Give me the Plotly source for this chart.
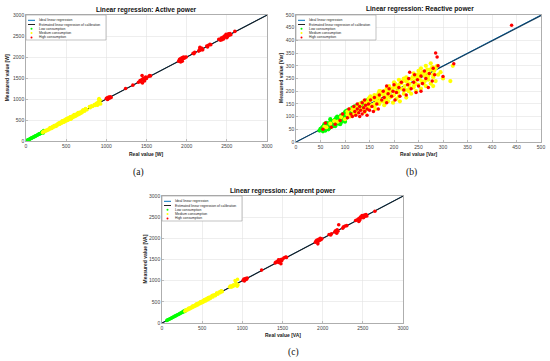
import plotly.graph_objects as go

# ---------------- DATA ----------------
# (a) Active power [W]
a_low_x = [12, 20, 28, 35, 42, 50, 57, 64, 71, 78, 85, 92, 100, 107, 114, 121, 128, 135, 142, 150, 157, 164, 171, 178, 185, 192, 199, 206, 213, 220, 60, 110, 160, 200, 215]
a_low_y = [11, 21, 27, 37, 40, 52, 55, 66, 69, 80, 83, 94, 98, 109, 112, 123, 126, 137, 140, 152, 155, 166, 169, 180, 183, 194, 197, 210, 216, 248, 63, 106, 164, 222, 190]

a_med_x = [205, 215, 225, 235, 245, 255, 265, 275, 285, 295, 305, 315, 325, 335, 345, 355, 365, 375, 385, 395, 405, 415, 425, 435, 445, 455, 465, 475, 485, 495, 505, 515, 525, 535, 545, 555, 565, 575, 585, 595, 605, 615, 625, 635, 645, 655, 665, 675, 685, 700, 715, 730, 745, 760, 790, 800, 815, 830, 850, 860, 875, 885, 895, 905, 910, 915, 920, 925, 930, 905, 890, 450, 520, 600, 560, 640, 480, 420, 380, 330, 700, 710,
           300, 350, 400, 450, 500, 550, 600, 650, 700, 320, 370, 420, 470, 520, 570, 620, 670, 740]
a_med_y = [200, 225, 215, 240, 232, 258, 250, 280, 270, 300, 290, 322, 312, 340, 330, 362, 350, 385, 368, 405, 390, 425, 408, 448, 425, 468, 445, 490, 462, 510, 480, 530, 500, 552, 520, 575, 540, 595, 560, 612, 578, 630, 600, 648, 620, 665, 640, 690, 660, 700, 725, 710, 760, 745, 820, 790, 840, 820, 870, 845, 900, 860, 920, 880, 1010, 950, 900, 970, 880, 990, 850, 480, 545, 625, 520, 660, 500, 440, 360, 345, 680, 740,
           318, 368, 420, 472, 530, 578, 630, 680, 722, 298, 348, 398, 445, 495, 548, 598, 648, 770]

a_high_x = [1000, 1010, 1020, 1030, 1040, 1050, 1060, 1015, 1240, 1330, 1400, 1420, 1430, 1440, 1450, 1455, 1460, 1470, 1480, 1490, 1500, 1445, 1475, 1530, 1540, 1550, 1900, 1910, 1920, 1930, 1940, 1950, 1960, 1970, 1980, 1995, 1925, 1945, 2080, 2090, 2100, 2150, 2160, 2170, 2180, 2190, 2200, 2165, 2250, 2270, 2290, 2300, 2260, 2400, 2420, 2430, 2450, 2460, 2470, 2480, 2490, 2500, 2510, 2520, 2530, 2540, 2550, 2440, 2500, 2600]
a_high_y = [1010, 1030, 1000, 1045, 1020, 1050, 1035, 990, 1250, 1330, 1400, 1440, 1410, 1460, 1380, 1480, 1450, 1500, 1470, 1520, 1490, 1560, 1430, 1540, 1560, 1550, 1900, 1940, 1960, 1920, 1980, 1950, 2000, 1970, 1990, 2000, 1880, 1900, 2090, 2080, 2110, 2140, 2180, 2160, 2200, 2210, 2170, 2230, 2260, 2280, 2300, 2290, 2240, 2420, 2400, 2450, 2470, 2430, 2500, 2480, 2540, 2510, 2490, 2550, 2520, 2560, 2530, 2410, 2460, 2610]

a_ideal_x = [0, 3000]
a_ideal_y = [0, 3000]
a_est_x = [0, 3000]
a_est_y = [0, 2995]

# (b) Reactive power [Var]
b_low_x = [48, 50, 52, 55, 55, 58, 60, 60, 62, 63, 65, 66, 68, 70, 70, 72, 74, 75, 76, 78, 80, 80, 82, 84, 85, 86, 88, 90, 90, 92, 94, 95, 96, 98, 100, 100, 102, 104, 105, 106, 108, 110, 110, 112, 115, 115, 118, 120, 122, 125, 128, 130, 135, 140, 145, 150, 145, 138, 58, 66, 90, 100, 84, 70, 53, 57, 64, 73, 79, 87, 93, 99, 107, 113,
           55, 60, 65, 70, 75, 80, 85, 90, 95, 100, 105, 110, 62, 72, 82, 92, 102, 112, 122, 132]
b_low_y = [45, 52, 48, 58, 42, 55, 62, 48, 68, 52, 60, 72, 55, 65, 78, 60, 70, 82, 62, 75, 68, 88, 78, 72, 92, 82, 75, 95, 85, 78, 100, 88, 110, 92, 105, 118, 95, 112, 125, 100, 115, 120, 105, 128, 118, 135, 125, 140, 130, 145, 138, 150, 155, 160, 165, 170, 150, 145, 70, 50, 72, 80, 100, 90, 56, 65, 58, 68, 86, 84, 90, 98, 108, 112,
           60, 45, 70, 58, 75, 62, 80, 70, 92, 88, 108, 112, 75, 80, 95, 105, 122, 130, 128, 142]

b_med_x = [58, 62, 70, 78, 85, 92, 100, 105, 110, 115, 118, 120, 125, 125, 130, 132, 135, 138, 140, 142, 145, 148, 150, 150, 152, 155, 158, 160, 160, 162, 165, 168, 170, 170, 172, 175, 178, 180, 180, 182, 185, 188, 190, 190, 192, 195, 198, 200, 200, 202, 205, 208, 210, 212, 215, 218, 220, 222, 225, 228, 230, 232, 235, 238, 240, 242, 245, 248, 250, 252, 255, 258, 260, 262, 265, 268, 270, 272, 275, 278, 280, 282, 285, 288, 290, 275, 265, 255, 240, 225, 210, 315, 320, 295, 300, 155, 165, 175, 185, 195, 205, 215, 225, 235, 245, 255, 265, 275, 285, 143, 163, 183, 203, 223, 243, 263,
           105, 112, 118, 124, 130, 136, 142, 148, 154, 160, 166, 172, 178, 184, 190, 196, 202, 208, 214, 220, 226, 232, 238, 244, 250, 256, 262, 268, 274, 280, 286, 110, 120, 130, 140, 150, 160, 170, 180, 190, 200, 210, 220, 230, 240, 250, 260, 270, 280]
b_med_y = [60, 58, 72, 82, 80, 98, 90, 108, 100, 125, 110, 130, 115, 140, 125, 150, 130, 160, 140, 125, 150, 170, 138, 160, 180, 145, 168, 150, 185, 130, 160, 190, 150, 175, 200, 160, 185, 145, 200, 170, 210, 160, 190, 220, 175, 200, 155, 215, 185, 230, 170, 200, 225, 160, 210, 240, 190, 220, 175, 245, 205, 230, 190, 255, 215, 240, 200, 265, 225, 250, 210, 275, 235, 260, 220, 285, 245, 270, 230, 295, 255, 280, 240, 300, 265, 310, 300, 290, 270, 255, 245, 240, 300, 275, 250, 172, 178, 190, 195, 210, 215, 232, 238, 248, 255, 268, 272, 285, 290, 155, 168, 180, 198, 205, 228, 240,
           120, 105, 135, 118, 145, 128, 158, 135, 170, 142, 182, 165, 195, 170, 205, 180, 222, 195, 235, 205, 245, 215, 255, 230, 262, 240, 275, 255, 285, 265, 295, 130, 108, 150, 118, 175, 140, 200, 160, 185, 235, 180, 250, 200, 220, 280, 230, 260, 220]

b_high_x = [55, 60, 72, 80, 90, 95, 105, 108, 112, 115, 118, 120, 122, 125, 125, 128, 130, 130, 132, 135, 135, 138, 140, 140, 142, 145, 145, 148, 150, 152, 155, 158, 160, 165, 168, 170, 175, 178, 180, 185, 188, 190, 195, 198, 200, 202, 205, 210, 212, 215, 220, 225, 228, 230, 235, 240, 242, 245, 248, 250, 255, 258, 262, 265, 270, 272, 278, 280, 283, 285, 288, 290, 300, 322, 440, 255, 232, 185]
b_high_y = [50, 75, 58, 70, 85, 110, 95, 130, 110, 100, 140, 120, 105, 130, 150, 115, 140, 100, 125, 155, 110, 135, 120, 165, 145, 105, 130, 150, 125, 165, 140, 120, 175, 150, 130, 185, 165, 200, 175, 155, 190, 210, 180, 200, 225, 165, 195, 215, 180, 235, 205, 185, 225, 250, 210, 235, 265, 195, 245, 220, 260, 230, 280, 250, 215, 270, 240, 290, 265, 350, 335, 300, 258, 308, 460, 200, 275, 220]

b_ideal_x = [0, 500]
b_ideal_y = [0, 500]
b_est_x = [0, 500]
b_est_y = [0, 498]

# (c) Apparent power [VA]
c_low_x = [60, 70, 80, 90, 100, 110, 120, 130, 140, 150, 160, 170, 180, 190, 200, 210, 220, 230, 240, 250, 260, 270, 280, 290, 285, 265]
c_low_y = [62, 68, 82, 88, 102, 108, 122, 128, 142, 148, 162, 168, 182, 188, 202, 208, 222, 228, 242, 248, 262, 268, 282, 300, 270, 278]

c_med_x = [285, 295, 305, 315, 325, 335, 345, 355, 365, 375, 385, 395, 405, 415, 425, 435, 445, 455, 465, 475, 485, 495, 505, 515, 525, 535, 545, 555, 565, 575, 585, 595, 605, 620, 635, 650, 665, 680, 695, 710, 725, 740, 750, 840, 850, 860, 870, 880, 890, 900, 910, 920, 930, 940, 945, 935,
           330, 380, 430, 480, 530, 580, 630, 680, 730]
c_med_y = [280, 305, 295, 325, 312, 345, 332, 365, 352, 388, 370, 408, 390, 428, 410, 450, 428, 470, 448, 492, 465, 512, 485, 532, 505, 555, 522, 578, 545, 598, 565, 615, 582, 640, 615, 668, 645, 700, 680, 730, 715, 760, 740, 850, 870, 845, 880, 860, 900, 880, 1000, 950, 910, 1030, 900, 870,
           348, 398, 452, 500, 552, 602, 655, 705, 750]

c_high_x = [1010, 1020, 1030, 1040, 1050, 1060, 1025, 1240, 1410, 1420, 1440, 1450, 1460, 1470, 1480, 1490, 1500, 1480, 1450, 1520, 1540, 1550, 1910, 1920, 1930, 1940, 1950, 1960, 1970, 1980, 1990, 1940, 2080, 2100, 2110, 2150, 2160, 2170, 2180, 2190, 2200, 2175, 2260, 2280, 2300, 2250, 2410, 2430, 2450, 2460, 2470, 2480, 2490, 2500, 2510, 2520, 2530, 2540, 2550, 2450, 2650]
c_high_y = [1010, 1040, 1020, 1050, 1030, 1060, 995, 1250, 1420, 1440, 1460, 1430, 1480, 1450, 1500, 1470, 1510, 1400, 1490, 1540, 1560, 1550, 1910, 1940, 1960, 1920, 1980, 1950, 2000, 1970, 1990, 1870, 2090, 2080, 2110, 2150, 2180, 2160, 2200, 2170, 2320, 2120, 2270, 2290, 2300, 2240, 2420, 2440, 2470, 2430, 2500, 2480, 2540, 2510, 2490, 2550, 2520, 2560, 2530, 2400, 2640]

c_ideal_x = [0, 3000]
c_ideal_y = [0, 3000]
c_est_x = [0, 3000]
c_est_y = [0, 2995]

titles = ["Linear regression: Active power", "Linear regression: Reactive power", "Linear regression: Aparent power"]
xlabels = ["Real value [W]", "Real value [Var]", "Real value [VA]"]
ylabels = ["Measured value [W]", "Measured value [Var]", "Measured value [VA]"]
sublabels = ["(a)", "(b)", "(c)"]
legend_names = ["Ideal linear regression", "Estimated linear regression of calibration",
                "Low consumption", "Medium consumption", "High consumption"]

# ---------------- STYLE ----------------
W, H = 550, 361
BLUE = "#0072BD"
GREEN = "#00FF00"
YELLOW = "#FFFF00"
RED = "#FF0000"
FONT = "Liberation Sans, Arial, sans-serif"

fig = go.Figure()

panels = [
    dict(ax="", lx=a_low_x, ly=a_low_y, mx=a_med_x, my=a_med_y, hx=a_high_x, hy=a_high_y,
         ix=a_ideal_x, iy=a_ideal_y, ex=a_est_x, ey=a_est_y, rng=[0, 3000], dt=500, ms=(3.6, 3.6, 3.6),
         ecol="#1a1a1a", px=(26, 267), py=(15, 141)),
    dict(ax="2", lx=b_low_x, ly=b_low_y, mx=b_med_x, my=b_med_y, hx=b_high_x, hy=b_high_y,
         ix=b_ideal_x, iy=b_ideal_y, ex=b_est_x, ey=b_est_y, rng=[0, 500], dt=50, ms=(4.2, 4.2, 3.5),
         ecol="#173b57", px=(296, 541), py=(15, 142)),
    dict(ax="3", lx=c_low_x, ly=c_low_y, mx=c_med_x, my=c_med_y, hx=c_high_x, hy=c_high_y,
         ix=c_ideal_x, iy=c_ideal_y, ex=c_est_x, ey=c_est_y, rng=[0, 3000], dt=500, ms=(3.6, 3.6, 3.6),
         ecol="#1a1a1a", px=(162, 403), py=(196, 323)),
]

shapes = []
annotations = []

for i, p in enumerate(panels):
    xa, ya = "x" + p["ax"], "y" + p["ax"]
    fig.add_trace(go.Scatter(x=p["ix"], y=p["iy"], mode="lines", xaxis=xa, yaxis=ya,
                             line=dict(color=BLUE, width=1.0), showlegend=False))
    fig.add_trace(go.Scatter(x=p["ex"], y=p["ey"], mode="lines", xaxis=xa, yaxis=ya,
                             line=dict(color=p["ecol"], width=1.1), showlegend=False))
    for (xs, ys, col), sz in zip([(p["lx"], p["ly"], GREEN), (p["mx"], p["my"], YELLOW),
                                  (p["hx"], p["hy"], RED)], p["ms"]):
        fig.add_trace(go.Scatter(x=xs, y=ys, mode="markers", xaxis=xa, yaxis=ya,
                                 marker=dict(color=col, size=sz, line=dict(width=0)),
                                 showlegend=False))

    x0, x1 = p["px"]
    y0, y1 = p["py"]
    axis_common = dict(range=p["rng"], dtick=p["dt"], showgrid=True, gridcolor="#e3e3e3", gridwidth=0.6,
                       showline=True, mirror=True, linecolor="#9a9a9a", linewidth=0.8,
                       ticks="inside", ticklen=2, tickcolor="#9a9a9a", tickwidth=0.6, automargin=False,
                       tickfont=dict(family=FONT, size=5, color="#444444"), zeroline=False)
    fig.update_layout(**{
        "xaxis" + p["ax"]: dict(domain=[x0 / W, x1 / W], anchor=ya, **axis_common),
        "yaxis" + p["ax"]: dict(domain=[1 - y1 / H, 1 - y0 / H], anchor=xa, **axis_common),
    })

    pw, ph = x1 - x0, y1 - y0
    xd, yd = xa + " domain", ya + " domain"
    shapes.append(dict(type="rect", xref=xd, yref=yd, x0=0, x1=80 / pw, y0=1, y1=1 - 25 / ph,
                       fillcolor="white", line=dict(color="#9a9a9a", width=0.6), layer="above"))
    rows = [5.3, 9.5, 13.8, 18.1, 22.4]
    for k, name in enumerate(legend_names):
        yy = 1 - rows[k] / ph
        if k == 0:
            shapes.append(dict(type="line", xref=xd, yref=yd, x0=2 / pw, x1=9 / pw, y0=yy, y1=yy,
                               line=dict(color=BLUE, width=1), layer="above"))
        elif k == 1:
            shapes.append(dict(type="line", xref=xd, yref=yd, x0=2 / pw, x1=9 / pw, y0=yy, y1=yy,
                               line=dict(color="#222222", width=1), layer="above"))
        else:
            col = [GREEN, YELLOW, RED][k - 2]
            shapes.append(dict(type="circle", xref=xd, yref=yd, x0=4.5 / pw, x1=6.5 / pw,
                               y0=yy - 1 / ph, y1=yy + 1 / ph, fillcolor=col, line=dict(width=0),
                               layer="above"))
        annotations.append(dict(xref=xd, yref=yd, x=10.5 / pw, y=yy, text=name, showarrow=False,
                                xanchor="left", yanchor="middle",
                                font=dict(family=FONT, size=3.4, color="#222222")))

title_pos = [(146.5, 10), (419.5, 9), (283, 191)]
xlab_pos = [(146.5, 154), (418.7, 154), (282.7, 335)]
ylab_pos = [(7.3, 78), (281, 78), (144, 259.5)]
sub_pos = [(138, 172), (411, 172), (293, 352)]

for i in range(3):
    tx, ty = title_pos[i]
    annotations.append(dict(xref="paper", yref="paper", x=tx / W, y=1 - ty / H, text="<b>" + titles[i] + "</b>",
                            showarrow=False, xanchor="center", yanchor="middle",
                            font=dict(family=FONT, size=6.6, color="#111111")))
    lx, ly = xlab_pos[i]
    annotations.append(dict(xref="paper", yref="paper", x=lx / W, y=1 - ly / H, text="<b>" + xlabels[i] + "</b>",
                            showarrow=False, xanchor="center", yanchor="middle",
                            font=dict(family=FONT, size=5, color="#222222")))
    vx, vy = ylab_pos[i]
    annotations.append(dict(xref="paper", yref="paper", x=vx / W, y=1 - vy / H, text="<b>" + ylabels[i] + "</b>",
                            showarrow=False, xanchor="center", yanchor="middle", textangle=-90,
                            font=dict(family=FONT, size=5, color="#222222")))
    sx, sy = sub_pos[i]
    annotations.append(dict(xref="paper", yref="paper", x=sx / W, y=1 - sy / H, text=sublabels[i],
                            showarrow=False, xanchor="center", yanchor="middle",
                            font=dict(family="Liberation Serif, DejaVu Serif, serif", size=9.5, color="#111111")))

fig.update_layout(width=W, height=H, margin=dict(l=0, r=0, t=0, b=0, autoexpand=False),
                  paper_bgcolor="white", plot_bgcolor="white", showlegend=False,
                  shapes=shapes, annotations=annotations)

fig.write_html("out.html", config={"displayModeBar": False, "staticPlot": True},
               post_script="document.body.style.margin='0px';document.body.style.overflow='hidden';")
